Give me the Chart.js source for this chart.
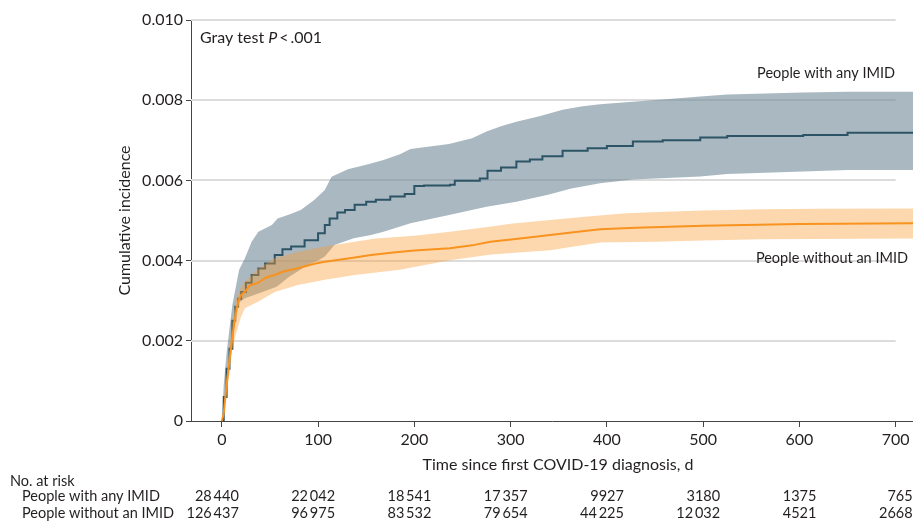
<!DOCTYPE html>
<html>
<head>
<meta charset="utf-8">
<script src="https://cdn.jsdelivr.net/npm/chart.js@4.4.1/dist/chart.umd.min.js"></script>
<style>
  html, body { margin: 0; padding: 0; background: #fff; }
  #wrap { width: 913px; height: 523px; position: relative; }
</style>
</head>
<body>
<div id="wrap"><canvas id="chart"></canvas></div>
<script>
// cumulative incidence (days since diagnosis, incidence)
const anyDays = [0, 2, 5, 8, 11, 14, 17, 20, 25, 31, 38, 45, 55, 63, 72, 86, 100, 107, 112, 120, 128, 138, 150, 160, 175, 190, 200, 210, 237, 242, 268, 276, 290, 306, 320, 333, 354, 380, 400, 427, 458, 497, 525, 604, 650, 718];
const anyVals = [0, 0.0006, 0.0013, 0.0018, 0.0025, 0.00285, 0.00305, 0.00322, 0.00345, 0.00364, 0.0038, 0.00393, 0.00414, 0.00428, 0.00435, 0.00451, 0.00468, 0.00489, 0.00505, 0.0052, 0.00526, 0.00539, 0.00547, 0.00552, 0.0056, 0.00566, 0.00586, 0.00587, 0.00589, 0.00599, 0.00605, 0.00624, 0.00632, 0.00647, 0.00652, 0.0066, 0.00674, 0.0068, 0.00686, 0.00697, 0.007, 0.00707, 0.00711, 0.00713, 0.00719, 0.00719];

const anyUpDays = [0, 2, 5, 8, 11, 15, 18, 24, 31, 38, 52, 58, 70, 82, 96, 107, 114, 131, 152, 168, 185, 196, 236, 260, 275, 290, 306, 330, 354, 375, 393, 427, 458, 497, 525, 604, 650, 718];
const anyUpVals = [0, 0.0009, 0.0017, 0.0023, 0.0029, 0.0034, 0.00377, 0.00406, 0.00447, 0.00472, 0.00489, 0.00505, 0.00515, 0.00526, 0.00551, 0.00576, 0.00609, 0.00628, 0.0064, 0.00651, 0.00665, 0.00678, 0.00691, 0.00705, 0.00722, 0.00735, 0.00746, 0.0076, 0.00776, 0.00785, 0.0079, 0.00796, 0.00802, 0.00809, 0.00814, 0.00819, 0.00821, 0.00821];

const anyLoDays = [0, 2, 5, 8, 11, 13.5, 18, 24, 38, 57, 70, 80, 90, 100, 107, 117, 137, 155, 168, 196, 236, 275, 306, 340, 363, 393, 427, 497, 525, 604, 650, 718];
const anyLoVals = [0, 0.0003, 0.0009, 0.0013, 0.002, 0.00281, 0.00295, 0.00306, 0.00318, 0.00335, 0.0036, 0.00375, 0.0039, 0.004, 0.0041, 0.00439, 0.00456, 0.00464, 0.00472, 0.00493, 0.00514, 0.00534, 0.00547, 0.00565, 0.0058, 0.00593, 0.00602, 0.0061, 0.00616, 0.00622, 0.00626, 0.00626];

const noneDays = [0, 2, 5, 8, 11, 14, 17, 20, 24, 29, 38, 46, 55, 63, 79, 96, 107, 133, 155, 178, 200, 237, 260, 279, 310, 341, 370, 393, 430, 500, 600, 718];
const noneVals = [0, 0.00019, 0.0009, 0.00152, 0.0021, 0.0026, 0.00298, 0.00314, 0.00322, 0.00338, 0.00345, 0.00358, 0.00364, 0.00372, 0.00381, 0.00392, 0.00397, 0.00406, 0.00414, 0.0042, 0.00425, 0.00431, 0.00438, 0.00447, 0.00455, 0.00464, 0.00472, 0.00478, 0.00482, 0.00487, 0.00491, 0.00493];

const noneUpDays = [0, 2, 5, 8, 11, 15, 20, 24, 38, 55, 79, 107, 138, 160, 200, 237, 280, 300, 341, 380, 420, 460, 500, 560, 620, 718];
const noneUpVals = [0, 0.0003, 0.0011, 0.0018, 0.0025, 0.00306, 0.00335, 0.00347, 0.00381, 0.00406, 0.00422, 0.00435, 0.00447, 0.00455, 0.00462, 0.00472, 0.00485, 0.00492, 0.00501, 0.0051, 0.00518, 0.00522, 0.00525, 0.00528, 0.00529, 0.0053];

const noneLoDays = [0, 2, 5, 8, 11, 15, 20, 24, 38, 55, 79, 107, 138, 185, 237, 280, 341, 393, 450, 500, 560, 718];
const noneLoVals = [0, 0.0001, 0.0007, 0.0012, 0.0018, 0.0022, 0.0026, 0.00281, 0.00298, 0.00322, 0.00339, 0.00352, 0.00364, 0.00377, 0.00401, 0.00415, 0.00426, 0.00445, 0.00447, 0.0045, 0.00453, 0.00455];

// axis ticks and number-at-risk table
const xTicks = [0, 100, 200, 300, 400, 500, 600, 700];
const yTicks = [0, 0.002, 0.004, 0.006, 0.008, 0.010];
const groupNames = ['People with any IMID', 'People without an IMID'];
const riskAny = ['28\u2009440', '22\u2009042', '18\u2009541', '17\u2009357', '9927', '3180', '1375', '765'];
const riskNone = ['126\u2009437', '96\u2009975', '83\u2009532', '79\u2009654', '44\u2009225', '12\u2009032', '4521', '2668'];

const FONT = 'Lato, "Open Sans", sans-serif';
const FS = 16;
const FS_SMALL = 14.5;
const TXT = '#231f20';

function pts(xs, ys) {
    return xs.map((x, i) => ({ x: x, y: ys[i] }));
}

// light gridlines that stop at day 700, drawn under the bands
const gridPlugin = {
    id: 'grid',
    beforeDatasetsDraw(chart) {
        const { ctx, scales: { x, y } } = chart;
        ctx.save();
        ctx.strokeStyle = '#dcdcdc';
        ctx.lineWidth = 2;
        yTicks.forEach(v => {
            if (v === 0) return;
            const py = Math.round(y.getPixelForValue(v));
            ctx.beginPath();
            ctx.moveTo(x.left, py);
            ctx.lineTo(x.getPixelForValue(700), py);
            ctx.stroke();
        });
        ctx.restore();
    }
};

// annotations, axis titles and the at-risk table
const textPlugin = {
    id: 'texts',
    afterDraw(chart) {
        const { ctx, scales: { x, y } } = chart;
        const f = FS + 'px ' + FONT;
        const fs = FS_SMALL + 'px ' + FONT;
        ctx.save();
        ctx.fillStyle = TXT;
        ctx.textBaseline = 'middle';
        ctx.font = f;

        // Gray test P < .001
        let tx = 200;
        ctx.textAlign = 'left';
        ctx.fillText('Gray test ', tx, 38);
        tx += ctx.measureText('Gray test ').width;
        ctx.font = 'italic ' + f;
        ctx.fillText('P', tx, 38);
        tx += ctx.measureText('P').width;
        ctx.font = f;
        ctx.fillText('\u2009<\u2009.001', tx, 38);

        // y title
        ctx.save();
        ctx.translate(125, (y.top + y.bottom) / 2);
        ctx.rotate(-Math.PI / 2);
        ctx.textAlign = 'center';
        ctx.fillText('Cumulative incidence', 0, 0);
        ctx.restore();

        // x title
        ctx.textAlign = 'center';
        ctx.fillText('Time since first COVID-19 diagnosis, d', 558, 465);

        // curve labels
        ctx.font = fs;
        ctx.textAlign = 'right';
        ctx.fillText(groupNames[0], 895, 73);
        ctx.fillText(groupNames[1], 908, 258);

        // number at risk
        ctx.textAlign = 'left';
        ctx.fillText('No. at risk', 10, 481);
        ctx.fillText(groupNames[0], 22, 496);
        ctx.fillText(groupNames[1], 22, 513);
        ctx.textAlign = 'right';
        xTicks.forEach((t, i) => {
            const px = x.getPixelForValue(t) + 17;
            ctx.fillText(riskAny[i], px, 496);
            ctx.fillText(riskNone[i], px, 513);
        });
        ctx.restore();
    }
};

const ctx = document.getElementById('chart').getContext('2d');
new Chart(ctx, {
    type: 'line',
    data: {
        datasets: [
            { data: pts(noneUpDays, noneUpVals), fill: 1, backgroundColor: 'rgba(250,158,52,0.4)', borderWidth: 0, order: 1 },
            { data: pts(noneLoDays, noneLoVals), fill: false, borderWidth: 0, order: 1 },
            { data: pts(noneDays, noneVals), fill: false, borderColor: '#f7931e', borderWidth: 2, order: 0 },
            { data: pts(anyUpDays, anyUpVals), fill: 4, backgroundColor: 'rgba(112,137,152,0.6)', borderWidth: 0, order: 3 },
            { data: pts(anyLoDays, anyLoVals), fill: false, borderWidth: 0, order: 3 },
            { data: pts(anyDays, anyVals), fill: false, borderColor: '#2c5466', borderWidth: 2, stepped: 'before', order: 2 }
        ]
    },
    options: {
        responsive: true,
        maintainAspectRatio: false,
        animation: false,
        layout: { padding: { top: 20, right: 0, left: 0, bottom: 0 } },
        elements: { point: { radius: 0 }, line: { tension: 0 } },
        plugins: {
            legend: { display: false },
            tooltip: { enabled: false }
        },
        scales: {
            x: {
                type: 'linear',
                min: -32,
                max: 718,
                afterFit: s => { s.height = 102; },
                afterBuildTicks: s => { s.ticks = xTicks.map(v => ({ value: v })); },
                ticks: { color: TXT, font: { family: FONT, size: FS }, padding: 3, maxRotation: 0 },
                grid: { drawOnChartArea: false, tickLength: 6, color: '#444' },
                border: { color: '#444', width: 1 }
            },
            y: {
                min: 0,
                max: 0.01,
                afterFit: s => { s.width = 191; },
                afterBuildTicks: s => { s.ticks = yTicks.map(v => ({ value: v })); },
                ticks: {
                    color: TXT,
                    font: { family: FONT, size: FS },
                    padding: 3,
                    callback: v => v === 0 ? '0' : v.toFixed(3)
                },
                grid: { drawOnChartArea: false, tickLength: 5, color: '#444' },
                border: { color: '#444', width: 1 }
            }
        }
    },
    plugins: [gridPlugin, textPlugin]
});
</script>
</body>
</html>
